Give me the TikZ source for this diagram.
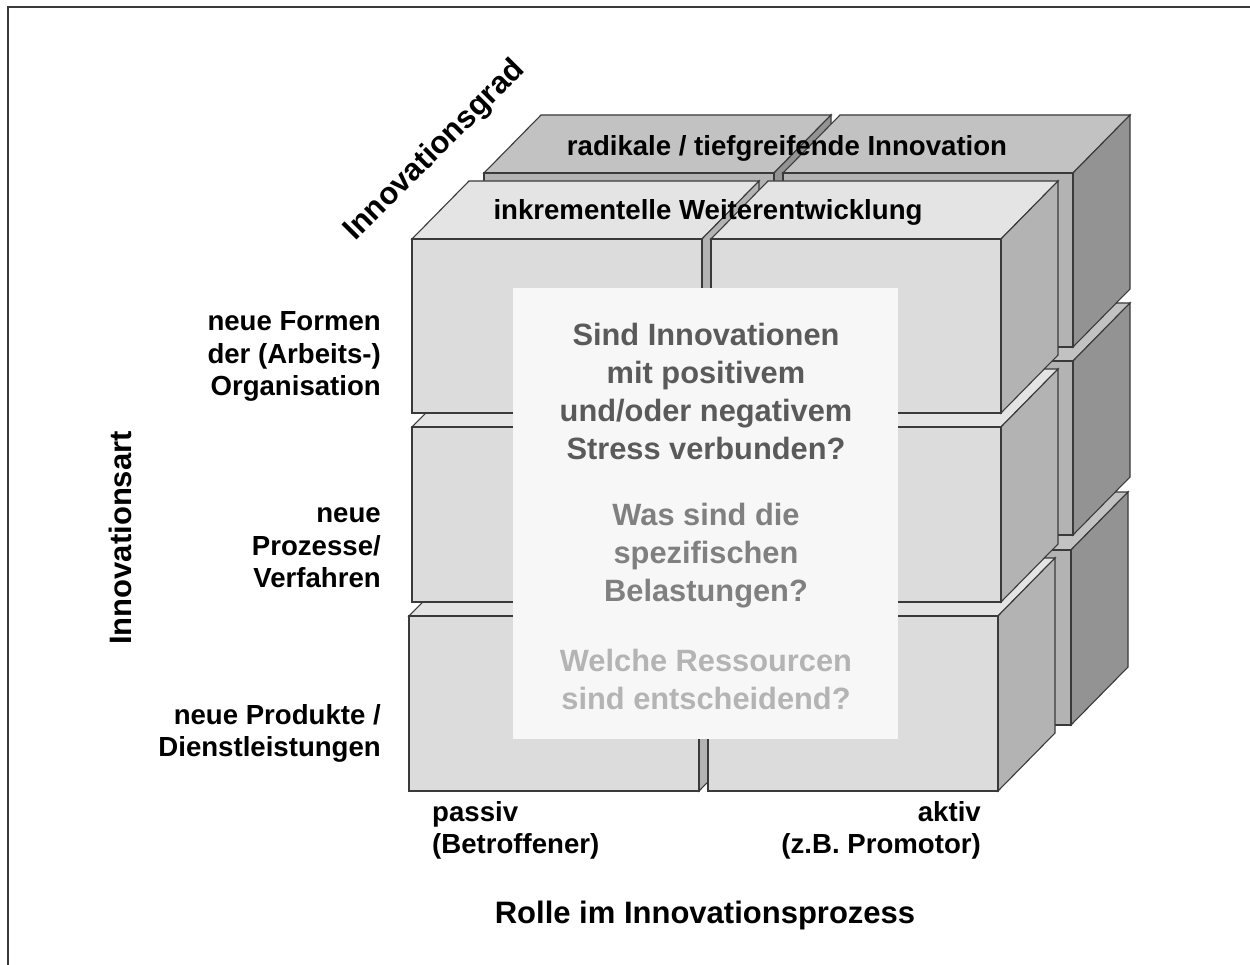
\documentclass[tikz,border=0pt]{standalone}
\usepackage{fontspec}
\setmainfont{Liberation Sans}
\definecolor{ffront}{HTML}{DCDCDC}
\definecolor{ftop}{HTML}{E4E4E4}
\definecolor{fside}{HTML}{B3B3B3}
\definecolor{bfront}{HTML}{B3B3B3}
\definecolor{btop}{HTML}{C2C2C2}
\definecolor{bside}{HTML}{939393}
\definecolor{edgecol}{HTML}{3A3A3A}
\definecolor{ovlcol}{HTML}{F7F7F7}
\definecolor{qone}{HTML}{5A5A5A}
\definecolor{qtwo}{HTML}{808080}
\definecolor{qthree}{HTML}{B4B4B4}
\newcommand\qbox[7]{%
  \filldraw[boxedge, fill=#6] (#1,#2) -- ++(57,-58) -- ++(#3,0) -- ++(-57,58) -- cycle;
  \filldraw[boxedge, fill=#7] ({#1+#3},#2) -- ++(57,-58) -- ++(0,#4) -- ++(-57,58) -- cycle;
  \filldraw[boxedge, fill=#5] (#1,#2) rectangle ++(#3,#4);
}
\begin{document}
\begin{tikzpicture}[x=1pt,y=-1pt,
  boxedge/.style={draw=edgecol, line width=1.1pt, line join=miter},
  lbl/.style={inner sep=0pt, font=\bfseries\fontsize{27.6}{32.5}\selectfont},
  axis/.style={inner sep=0pt, font=\bfseries\fontsize{31}{36}\selectfont},
  qtext/.style={inner sep=0pt, align=center, font=\bfseries\fontsize{30.8}{38}\selectfont}]
\useasboundingbox (0,0) rectangle (1250,965);
\fill[white] (0,0) rectangle (1250,965);
\draw[line width=1.6pt, color=edgecol] (8,975) -- (8,7) -- (1260,7);
% back layer
\qbox{482}{550}{290}{175}{bfront}{btop}{bside}
\qbox{781}{550}{290}{175}{bfront}{btop}{bside}
\qbox{484}{361}{290}{174}{bfront}{btop}{bside}
\qbox{783}{361}{290}{174}{bfront}{btop}{bside}
\qbox{484}{173}{290}{174}{bfront}{btop}{bside}
\qbox{783}{173}{290}{174}{bfront}{btop}{bside}
% front layer
\qbox{409}{616}{290}{175}{ffront}{ftop}{fside}
\qbox{708}{616}{290}{175}{ffront}{ftop}{fside}
\qbox{412}{427}{290}{175}{ffront}{ftop}{fside}
\qbox{711}{427}{290}{175}{ffront}{ftop}{fside}
\qbox{412}{239}{290}{174}{ffront}{ftop}{fside}
\qbox{711}{239}{290}{174}{ffront}{ftop}{fside}
% overlay panel
\fill[ovlcol] (513,288) rectangle (898,739);
\node[qtext, text=qone] (q1) at (706,391) {Sind Innovationen\\mit positivem\\und/oder negativem\\Stress verbunden?};
\node[qtext, text=qtwo] (q2) at (706,556) {Was sind die\\spezifischen\\Belastungen?};
\node[qtext, text=qthree] (q3) at (706,679) {Welche Ressourcen\\sind entscheidend?};
% top labels
\node[lbl] (rad) at (787,148) {radikale / tiefgreifende Innovation};
\node[lbl] (ink) at (708,212) {inkrementelle Weiterentwicklung};
% row labels
\node[lbl, anchor=east, align=right] (r1) at (381,356.5) {neue Formen\\der (Arbeits-)\\Organisation};
\node[lbl, anchor=east, align=right] (r2) at (381,548) {neue\\Prozesse/\\Verfahren};
\node[lbl, anchor=east, align=right] (r3) at (381,733.5) {neue Produkte /\\Dienstleistungen};
% column labels
\node[lbl, anchor=west, align=left] (c1) at (432,830.5) {passiv\\(Betroffener)};
\node[lbl, anchor=east, align=right] (c2) at (981,830.5) {aktiv\\(z.B. Promotor)};
% axis titles
\node[axis, rotate=45] (ag) at (435,151) {Innovationsgrad};
\node[axis, rotate=90] (aa) at (120,538) {Innovationsart};
\node[axis] (ar) at (705,915) {Rolle im Innovationsprozess};
\end{tikzpicture}
\end{document}
